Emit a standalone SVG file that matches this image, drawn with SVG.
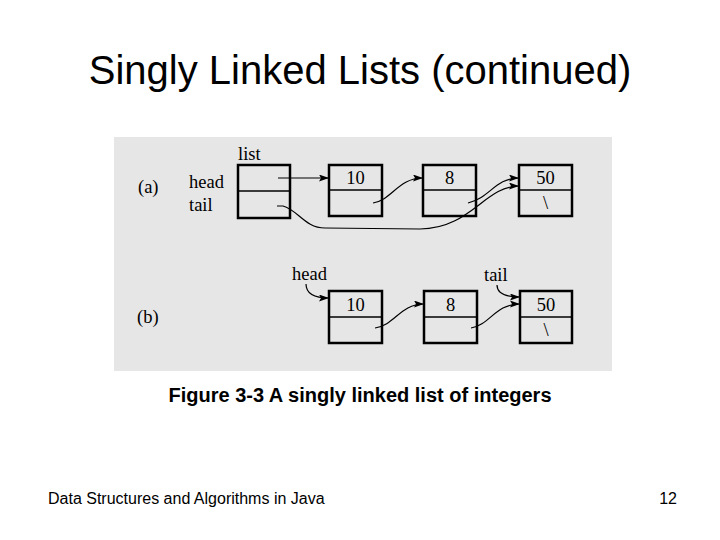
<svg xmlns="http://www.w3.org/2000/svg" width="720" height="540" viewBox="0 0 720 540">
<style>
.title{font-family:"Liberation Sans",Arial,sans-serif;font-size:40px;fill:#000}
.cap{font-family:"Liberation Sans",Arial,sans-serif;font-size:20px;font-weight:bold;fill:#000}
.foot{font-family:"Liberation Sans",Arial,sans-serif;font-size:16px;fill:#000}
.fig{font-family:"Liberation Serif","Times New Roman",serif;font-size:18.5px;fill:#000}
.box{fill:none;stroke:#000;stroke-width:2.5}
.div{stroke:#000;stroke-width:1.6}
.link{fill:none;stroke:#000;stroke-width:1.2}
</style>
<defs>
<marker id="ah" markerUnits="userSpaceOnUse" markerWidth="10" markerHeight="7" refX="10" refY="3.5" orient="auto">
<path d="M0,0 L10,3.5 L0,7 L2,3.5 z" fill="#000"/>
</marker>
</defs>
<rect width="720" height="540" fill="#fff"/>
<text class="title" x="360" y="84" text-anchor="middle">Singly Linked Lists (continued)</text>
<rect x="114" y="137" width="498" height="234" fill="#e6e6e6"/>

<g id="labels-a">
<text class="fig" x="138" y="193">(a)</text>
<text class="fig" x="189" y="188">head</text>
<text class="fig" x="189" y="211">tail</text>
<text class="fig" x="238" y="160">list</text>
</g>
<g id="list-a">
<rect class="box" x="238" y="165" width="52" height="53"/>
<line class="div" x1="238" y1="191" x2="290" y2="191"/>
</g>
<g id="node10-a">
<rect class="box" x="329" y="165" width="53" height="51"/>
<line class="div" x1="329" y1="190" x2="382" y2="190"/>
<text class="fig" x="355.5" y="184" text-anchor="middle">10</text>
</g>
<g id="node8-a">
<rect class="box" x="423" y="165" width="53" height="51"/>
<line class="div" x1="423" y1="190" x2="476" y2="190"/>
<text class="fig" x="449.5" y="184" text-anchor="middle">8</text>
</g>
<g id="node50-a">
<rect class="box" x="519" y="165" width="53" height="51"/>
<line class="div" x1="519" y1="190" x2="572" y2="190"/>
<text class="fig" x="545.5" y="184" text-anchor="middle">50</text>
<text class="fig" x="545.5" y="209" text-anchor="middle">\</text>
</g>

<g id="labels-b">
<text class="fig" x="137" y="323">(b)</text>
<text class="fig" x="292" y="280">head</text>
<text class="fig" x="484" y="281">tail</text>
</g>
<g id="node10-b">
<rect class="box" x="329" y="291" width="53" height="52"/>
<line class="div" x1="329" y1="317" x2="382" y2="317"/>
<text class="fig" x="355.5" y="311" text-anchor="middle">10</text>
</g>
<g id="node8-b">
<rect class="box" x="424" y="291" width="53" height="52"/>
<line class="div" x1="424" y1="317" x2="477" y2="317"/>
<text class="fig" x="450.5" y="311" text-anchor="middle">8</text>
</g>
<g id="node50-b">
<rect class="box" x="520" y="291" width="52" height="52"/>
<line class="div" x1="520" y1="317" x2="572" y2="317"/>
<text class="fig" x="546" y="311" text-anchor="middle">50</text>
<text class="fig" x="546" y="336" text-anchor="middle">\</text>
</g>

<g id="connectors">
<path class="link" d="M278,178 H329" marker-end="url(#ah)"/>
<path class="link" d="M373,203 C392,200 398,178 423,178" marker-end="url(#ah)"/>
<path class="link" d="M468,203 C490,198 495,178 519,178" marker-end="url(#ah)"/>
<path class="link" d="M277,206 L283,206 C298,210 305,228 325,228 L420,229 C470,229 485,186 519,186" marker-end="url(#ah)"/>
<path class="link" d="M306,284 C306,292 312,298 329,298" marker-end="url(#ah)"/>
<path class="link" d="M497,285 C497,293 505,297 520,297" marker-end="url(#ah)"/>
<path class="link" d="M375,328 C395,325 400,304 424,304" marker-end="url(#ah)"/>
<path class="link" d="M471,328 C490,325 495,304 520,304" marker-end="url(#ah)"/>
</g>

<text class="cap" x="360" y="402" text-anchor="middle">Figure 3-3 A singly linked list of integers</text>
<text class="foot" x="48" y="504">Data Structures and Algorithms in Java</text>
<text class="foot" x="677" y="504" text-anchor="end">12</text>
</svg>
